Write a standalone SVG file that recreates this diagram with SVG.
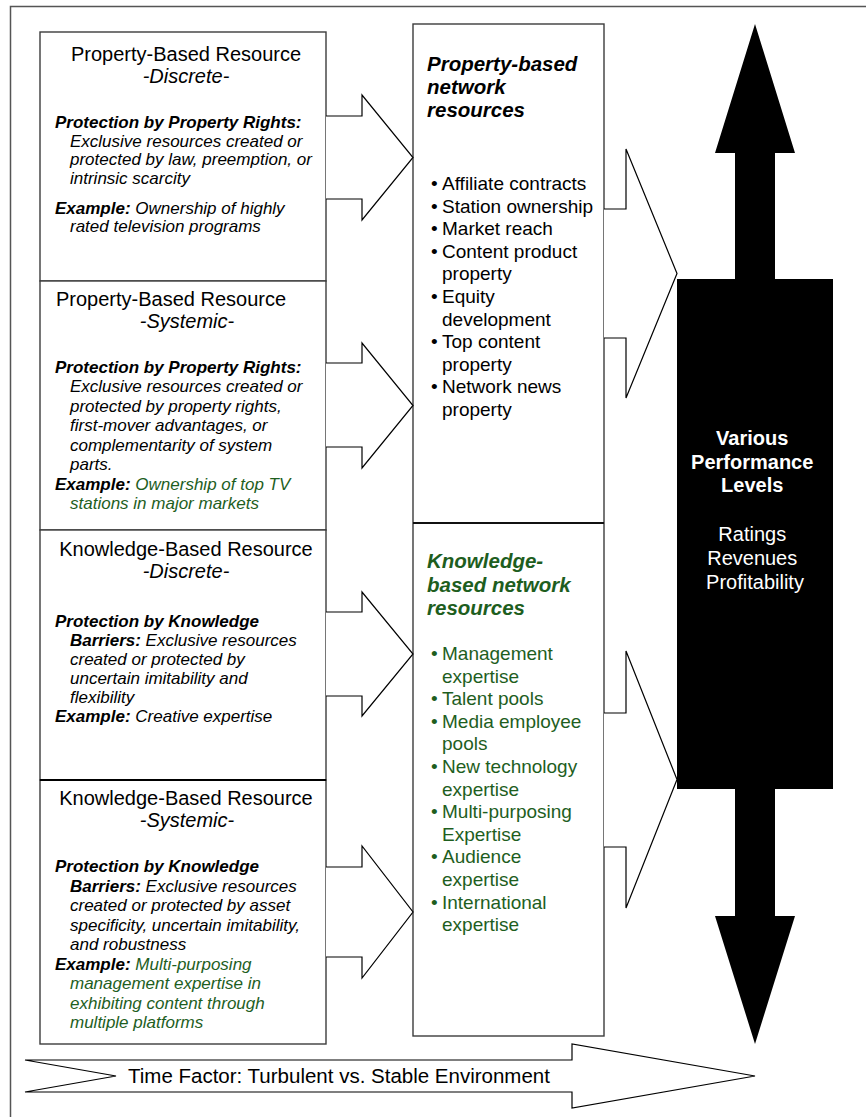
<svg xmlns="http://www.w3.org/2000/svg" width="866" height="1117" viewBox="0 0 866 1117">
  <style>
    text { font-family: "Liberation Sans", Arial, Helvetica, sans-serif; fill: #000; }
    .frame { fill: none; stroke: #555; stroke-width: 1.5; }
    .box { fill: #fff; stroke: #3c3c3c; stroke-width: 1.4; }
    .arrow { fill: #fff; stroke: #000; stroke-width: 1.2; stroke-linejoin: miter; }
    .title { font-size: 20px; }
    .sub { font-size: 20px; font-style: italic; }
    .body { font-size: 17px; font-style: italic; }
    .lbl { font-weight: bold; }
    .green { fill: #1e5e1e; }
    .head { font-size: 20.5px; font-weight: bold; font-style: italic; }
    .item { font-size: 19px; }
    .perf { font-size: 20px; fill: #fff; }
  </style>

  <!-- outer frame -->
  <path class="frame" d="M866,6.5 H10.5 V1117"/>

  <!-- big double-headed performance arrow -->
  <g id="performance">
    <path fill="#000" d="M755,24 L795,153 H775 V279 H833 V789 H775 V916 H795 L755,1044 L715,916 H735 V789 H677 V279 H735 V153 H715 Z"/>
    <text class="perf" text-anchor="middle">
      <tspan class="lbl" x="755" y="445">Various</tspan>
      <tspan class="lbl" x="755" y="468.5">Performance</tspan>
      <tspan class="lbl" x="755" y="492">Levels</tspan>
      <tspan x="755" y="540.5">Ratings</tspan>
      <tspan x="755" y="564.5">Revenues</tspan>
      <tspan x="755" y="588.5">Profitability</tspan>
    </text>
  </g>

  <!-- resource boxes -->
  <g id="prop-discrete">
    <rect class="box" x="40" y="32" width="286" height="249"/>
    <text class="title" x="186" y="61" text-anchor="middle">Property-Based Resource</text>
    <text class="sub" x="186" y="83" text-anchor="middle">-Discrete-</text>
    <text class="body lbl" x="55" y="128">Protection by Property Rights:</text>
    <text class="body" x="70" y="146.5">Exclusive resources created or</text>
    <text class="body" x="70" y="165">protected by law, preemption, or</text>
    <text class="body" x="70" y="183.5">intrinsic scarcity</text>
    <text class="body" x="55" y="213.5"><tspan class="lbl">Example:</tspan> Ownership of highly</text>
    <text class="body" x="70" y="232">rated television programs</text>
  </g>

  <g id="prop-systemic">
    <rect class="box" x="40" y="281" width="286" height="249"/>
    <text class="title" x="56" y="306">Property-Based Resource</text>
    <text class="sub" x="187" y="328" text-anchor="middle">-Systemic-</text>
    <text class="body lbl" x="55" y="372.5">Protection by Property Rights:</text>
    <text class="body" x="70" y="392">Exclusive resources created or</text>
    <text class="body" x="70" y="411.5">protected by property rights,</text>
    <text class="body" x="70" y="431">first-mover advantages, or</text>
    <text class="body" x="70" y="450.5">complementarity of system</text>
    <text class="body" x="70" y="470">parts.</text>
    <text class="body" x="55" y="489.5"><tspan class="lbl">Example:</tspan> <tspan class="green">Ownership of top TV</tspan></text>
    <text class="body green" x="70" y="509">stations in major markets</text>
  </g>

  <g id="know-discrete">
    <rect class="box" x="40" y="530" width="286" height="250"/>
    <text class="title" x="186" y="556" text-anchor="middle">Knowledge-Based Resource</text>
    <text class="sub" x="186" y="578" text-anchor="middle">-Discrete-</text>
    <text class="body lbl" x="55" y="627">Protection by Knowledge</text>
    <text class="body" x="70" y="646"><tspan class="lbl">Barriers:</tspan> Exclusive resources</text>
    <text class="body" x="70" y="665">created or protected by</text>
    <text class="body" x="70" y="684">uncertain imitability and</text>
    <text class="body" x="70" y="703">flexibility</text>
    <text class="body" x="55" y="722"><tspan class="lbl">Example:</tspan> Creative expertise</text>
  </g>

  <g id="know-systemic">
    <rect class="box" x="40" y="780" width="286" height="264"/>
    <line x1="40" y1="780" x2="326" y2="780" stroke="#000" stroke-width="2"/>
    <text class="title" x="186" y="805" text-anchor="middle">Knowledge-Based Resource</text>
    <text class="sub" x="187" y="827" text-anchor="middle">-Systemic-</text>
    <text class="body lbl" x="55" y="872">Protection by Knowledge</text>
    <text class="body" x="70" y="891.5"><tspan class="lbl">Barriers:</tspan> Exclusive resources</text>
    <text class="body" x="70" y="911">created or protected by asset</text>
    <text class="body" x="70" y="930.5">specificity, uncertain imitability,</text>
    <text class="body" x="70" y="950">and robustness</text>
    <text class="body" x="55" y="969.5"><tspan class="lbl">Example:</tspan> <tspan class="green">Multi-purposing</tspan></text>
    <text class="body green" x="70" y="989">management expertise in</text>
    <text class="body green" x="70" y="1008.5">exhibiting content through</text>
    <text class="body green" x="70" y="1028">multiple platforms</text>
  </g>

  <!-- network resources column -->
  <g id="network-resources">
    <rect class="box" x="413" y="24" width="191" height="1012"/>
    <line x1="413" y1="523" x2="604" y2="523" stroke="#111" stroke-width="1.8"/>
  </g>

  <g id="property-network">
    <text class="head" x="427" y="71">Property-based</text>
    <text class="head" x="427" y="94">network</text>
    <text class="head" x="427" y="117">resources</text>
    <text class="item" x="431" y="190">•</text><text class="item" x="442" y="190">Affiliate contracts</text>
    <text class="item" x="431" y="212.6">•</text><text class="item" x="442" y="212.6">Station ownership</text>
    <text class="item" x="431" y="235.2">•</text><text class="item" x="442" y="235.2">Market reach</text>
    <text class="item" x="431" y="257.8">•</text><text class="item" x="442" y="257.8">Content product</text>
    <text class="item" x="442" y="280.4">property</text>
    <text class="item" x="431" y="303">•</text><text class="item" x="442" y="303">Equity</text>
    <text class="item" x="442" y="325.6">development</text>
    <text class="item" x="431" y="348.2">•</text><text class="item" x="442" y="348.2">Top content</text>
    <text class="item" x="442" y="370.8">property</text>
    <text class="item" x="431" y="393.4">•</text><text class="item" x="442" y="393.4">Network news</text>
    <text class="item" x="442" y="416">property</text>
  </g>

  <g id="knowledge-network">
    <text class="head green" x="427" y="568.3">Knowledge-</text>
    <text class="head green" x="427" y="591.7">based network</text>
    <text class="head green" x="427" y="615">resources</text>
    <text class="item green" x="431" y="660">•</text><text class="item green" x="442" y="660">Management</text>
    <text class="item green" x="442" y="682.6">expertise</text>
    <text class="item green" x="431" y="705.2">•</text><text class="item green" x="442" y="705.2">Talent pools</text>
    <text class="item green" x="431" y="727.8">•</text><text class="item green" x="442" y="727.8">Media employee</text>
    <text class="item green" x="442" y="750.4">pools</text>
    <text class="item green" x="431" y="773">•</text><text class="item green" x="442" y="773">New technology</text>
    <text class="item green" x="442" y="795.6">expertise</text>
    <text class="item green" x="431" y="818.2">•</text><text class="item green" x="442" y="818.2">Multi-purposing</text>
    <text class="item green" x="442" y="840.8">Expertise</text>
    <text class="item green" x="431" y="863.4">•</text><text class="item green" x="442" y="863.4">Audience</text>
    <text class="item green" x="442" y="886">expertise</text>
    <text class="item green" x="431" y="908.6">•</text><text class="item green" x="442" y="908.6">International</text>
    <text class="item green" x="442" y="931.2">expertise</text>
  </g>

  <!-- block arrows (open on the side that joins a box) -->
  <g id="connectors">
    <path class="arrow" d="M326,116 H362 V95 L413,157.5 L362,220 V199 H326"/>
    <path class="arrow" d="M326,363 H362 V343 L413,405.5 L362,468 V447 H326"/>
    <path class="arrow" d="M326,612 H362 V592 L413,654 L362,716 V696 H326"/>
    <path class="arrow" d="M326,867 H362 V846 L413,912 L362,978 V957 H326"/>
    <path class="arrow" d="M604,209 H626 V149 L677,273.5 L626,398 V338 H604"/>
    <path class="arrow" d="M604,713 H626 V651 L677,779.5 L626,908 V847 H604"/>
  </g>

  <!-- time factor arrow along the bottom -->
  <g id="time-factor">
    <path class="arrow" d="M25,1060 H572 V1044 L755,1076 L572,1108 V1092 H25 L116,1076 Z"/>
    <text x="128" y="1083" font-size="20.5">Time Factor: Turbulent vs. Stable Environment</text>
  </g>
</svg>
